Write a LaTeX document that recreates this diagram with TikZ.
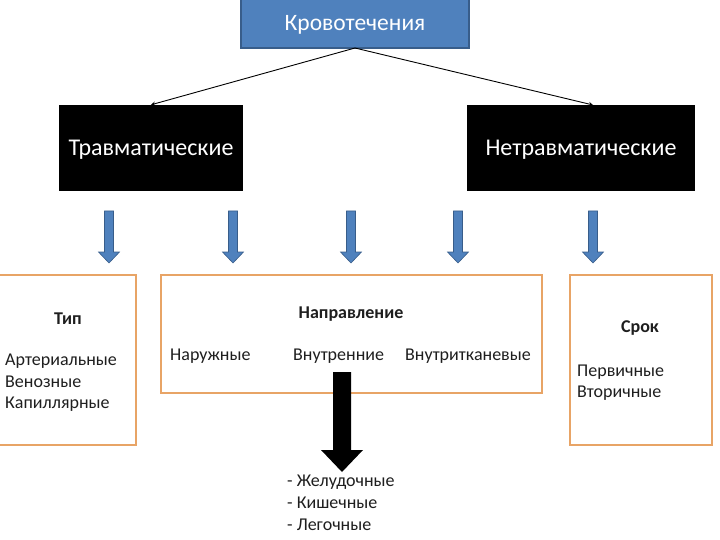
\documentclass[tikz,border=0pt]{standalone}
\usepackage{fontspec}
\setmainfont{Carlito}
\definecolor{topblue}{RGB}{79,129,189}
\definecolor{topborder}{RGB}{56,93,138}
\definecolor{boxorange}{RGB}{232,164,102}
\definecolor{txtgray}{RGB}{30,30,30}
\begin{document}
\begin{tikzpicture}[x=1pt,y=-1pt,
  txt/.style={inner sep=0pt,text=txtgray,font=\fontsize{18}{21}\selectfont},
  btxt/.style={inner sep=0pt,text=txtgray,font=\fontsize{18}{21}\selectfont\bfseries},
  blk/.style={fill=black,text=white,text depth=0pt,font=\fontsize{24}{28}\selectfont},
  obox/.style={draw=boxorange,line width=1.8pt},
  thin arrow/.style={-stealth,line width=0.9pt},
  blue arrow/.pic={\filldraw[fill=topblue,draw=topborder,line width=0.6pt]
     (-4.5,0) -- (4.5,0) -- (4.5,41) -- (10.5,41) -- (0,52) -- (-10.5,41) -- (-4.5,41) -- cycle;}
]
\useasboundingbox (0,0) rectangle (720,540);
% top
\node[draw=topborder,fill=topblue,line width=1.5pt,minimum width=228pt,minimum height=50pt,
  text=white,text depth=0pt,font=\fontsize{23.5}{27}\selectfont,inner sep=0pt] (top) at (355,23) {Кровотечения};
\node[blk,minimum width=184pt,minimum height=86pt,inner sep=0pt] (tr) at (151,148) {Травматические};
\node[blk,minimum width=228pt,minimum height=86pt,inner sep=0pt] (ntr) at (581,148) {Нетравматические};
\coordinate (topc) at (355,48);
\draw[thin arrow] (topc) -- (tr.north);
\draw[thin arrow] (topc) -- (593,105);
% blue arrows
\foreach \xx in {109,233,351,458,593} \pic at (\xx,211) {blue arrow};
% orange boxes
\draw[obox] (-2,275) rectangle (136,445);
\draw[obox] (161,275) rectangle (542,393);
\draw[obox] (570,275) rectangle (712,445);
% left box texts
\node[btxt] (tip) at (68,319) {Тип};
\node[txt,anchor=west] (a1) at (5,361) {Артериальные};
\node[txt,anchor=west] (a2) at (5,382) {Венозные};
\node[txt,anchor=west] (a3) at (5,404) {Капиллярные};
% middle
\node[btxt] (napr) at (351,314) {Направление};
\node[txt,anchor=west] (nar) at (170,356) {Наружные};
\node[txt,anchor=west] (vn) at (293,356) {Внутренние};
\node[txt,anchor=west] (vt) at (405,356) {Внутритканевые};
% right
\node[btxt] (srok) at (640,328) {Срок};
\node[txt,anchor=west] (p1) at (577,372) {Первичные};
\node[txt,anchor=west] (p2) at (577,393) {Вторичные};
% black block arrow
\fill[black] (333,372) -- (351,372) -- (351,450) -- (363,450) -- (342,472) -- (321,450) -- (333,450) -- cycle;
\node[txt,anchor=west] (b1) at (287,482) {- Желудочные};
\node[txt,anchor=west] (b2) at (287,503) {- Кишечные};
\node[txt,anchor=west] (b3) at (287,525) {- Легочные};
\end{tikzpicture}
\end{document}
